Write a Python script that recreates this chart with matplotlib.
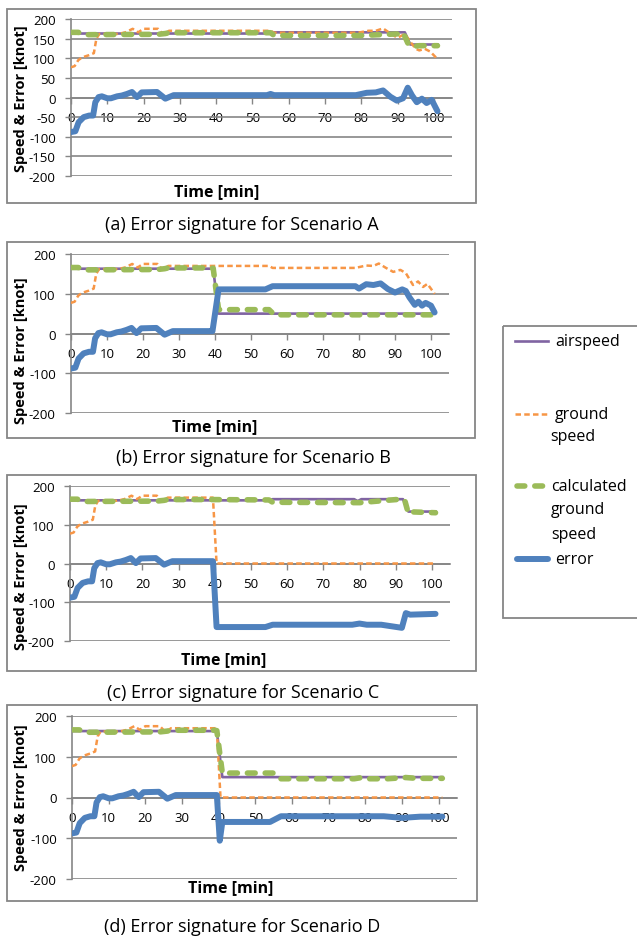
import matplotlib
matplotlib.use('Agg')  # no display in the sandbox

import matplotlib.pyplot as plt
from matplotlib.patches import Rectangle
from matplotlib.lines import Line2D

plt.rcParams['font.family'] = ['Open Sans', 'DejaVu Sans']
plt.rcParams['axes.unicode_minus'] = False

PURPLE = '#8064A2'
ORANGE = '#F79646'
GREEN = '#9BBB59'
BLUE = '#4F81BD'
GRID = '#868686'

# ---- values (time in min, speed / error in knot) ----
# first ~39 minutes are the same in every scenario
t_ground_start = [0, 1, 2, 3, 4, 5, 6.3, 7, 7.8, 13, 15, 17, 18.5, 20, 24, 25.5, 27, 39]
ground_start = [77, 80, 95, 102, 105, 108, 113, 150, 162, 162, 166, 175, 166, 175, 175, 160, 170, 170]

t_calc_start = [0, 2, 3.5, 24, 26, 27, 39]
calc_start = [166, 166, 160, 161, 163, 165, 165]

t_err_start = [0, 1.2, 2.1, 3.5, 5, 6.1, 6.7, 7.6, 8.5, 10, 11, 12.7, 14, 15.4, 16.8,
               18.2, 19.5, 23.7, 26, 28.3, 39]
err_start = [-88, -86, -63, -50, -46, -46, -12, 1, 3, -2, -2, 3, 5, 9, 14,
             1, 13, 14, -3, 6, 6]

# scenario A
t_air_a = [0, 55, 56, 92, 93.5, 101]
air_a = [163, 163, 166, 166, 135, 135]
t_ground_a = [55, 56, 79, 82, 84, 86, 88.7, 90, 92, 94, 95, 96, 97.5, 99, 101]
ground_a = [170, 165, 165, 170, 170, 176, 159, 152, 162, 136, 124, 120, 124, 117, 98]
t_calc_a = [55, 56, 80, 85, 90, 91.5, 93, 94, 96, 101]
calc_a = [165, 158, 158, 160, 162, 166, 135, 130, 132, 132]
t_err_a = [54, 55, 56, 78.5, 81.5, 84, 86, 88, 89.8, 91.5, 92.8, 94, 95.3, 96.7, 98, 99.4, 101]
err_a = [6, 9, 6, 6, 12, 13, 18, 2, -8, -2, 25, 5, -12, -3, -14, -6, -35]

# scenario B
t_air_b = [0, 39.5, 41, 101]
air_b = [163, 163, 50, 50]
t_ground_b = [55, 56, 79, 82, 84, 85.5, 87.5, 89.5, 91.5, 93, 95, 96.4, 97.8, 99, 101]
ground_b = [170, 165, 165, 171, 170, 176, 165, 155, 160, 152, 122, 131, 117, 125, 100]
t_calc_b = [39.5, 41, 55, 56.5, 101]
calc_b = [164, 60, 60, 47, 47]
t_err_b = [39.3, 41, 54, 56, 79, 80, 82, 84, 86, 88, 90, 92, 93, 94, 95.5, 96.5, 97.5, 98.5, 100, 101]
err_b = [6, 111, 111, 119, 119, 113, 124, 122, 126, 112, 103, 111, 107, 91, 72, 80, 70, 77, 70, 53]

# scenario C
t_air_c = [0, 55, 56, 78.5, 79.5, 80.5, 92, 93.5, 101]
air_c = [163, 163, 166, 166, 161, 166, 166, 134, 134]
t_ground_c = [39.5, 40.5, 101]
ground_c = [170, 0, 0]
t_calc_c = [55, 56, 80, 87.5, 91.5, 92.5, 93.5, 95, 101]
calc_c = [164, 158, 157, 163, 166, 163, 129, 133, 131]
t_err_c = [39.5, 40.5, 54, 56, 78, 80, 82, 86, 91.7, 92.8, 94, 101]
err_c = [6, -164, -164, -158, -158, -155, -158, -158, -166, -128, -132, -130]

# scenario D
t_air_d = [0, 39.5, 41, 101]
air_d = [163, 163, 50, 50]
t_ground_d = [39.5, 40.5, 101]
ground_d = [170, 0, 0]
t_calc_d = [39.5, 41, 55, 57, 77, 79, 81, 86, 91, 94, 101]
calc_d = [164, 60, 60, 46, 46, 49, 46, 46, 49, 47, 47]
t_err_d = [39.5, 40.3, 41, 54, 57, 85, 90, 95, 101]
err_d = [6, -106, -60, -60, -46, -46, -50, -47, -47]

x_ticks = [0, 10, 20, 30, 40, 50, 60, 70, 80, 90, 100]
y_ticks_a = [-200, -150, -100, -50, 0, 50, 100, 150, 200]
y_ticks_bcd = [-200, -100, 0, 100, 200]

captions = ['(a) Error signature for Scenario A', '(b) Error signature for Scenario B',
            '(c) Error signature for Scenario C', '(d) Error signature for Scenario D']

W, H = 637, 937
fig = plt.figure(figsize=(W / 100, H / 100), dpi=100)

# overlay in pixel coordinates for frames and free text
ov = fig.add_axes([0, 0, 1, 1])
ov.set_xlim(0, W)
ov.set_ylim(H, 0)
ov.axis('off')

AIR_STYLE = dict(color=PURPLE, lw=1.9)
GROUND_STYLE = dict(color=ORANGE, lw=1.8, ls=(0, (2.2, 1.3)))
CALC_STYLE = dict(color=GREEN, lw=4.0, ls=(0, (1.4, 1.8)), dash_capstyle='round')
ERR_STYLE = dict(color=BLUE, lw=4.3, solid_capstyle='round')


def draw_panel(px, yticks, air, ground, calc, err):
    x0, x1, ytop, ybot = px
    ax = fig.add_axes([x0 / W, 1 - ybot / H, (x1 - x0) / W, (ybot - ytop) / H])
    ax.set_facecolor('none')
    ax.plot(air[0], air[1], zorder=3, **AIR_STYLE)
    ax.plot(ground[0], ground[1], zorder=4, **GROUND_STYLE)
    ax.plot(calc[0], calc[1], zorder=5, **CALC_STYLE)
    ax.plot(err[0], err[1], zorder=6, **ERR_STYLE)
    ax.set_xlim(0, 105)
    ax.set_ylim(-200, 200)
    ax.set_xticks(x_ticks)
    ax.set_yticks(yticks)
    for s in ['top', 'right']:
        ax.spines[s].set_visible(False)
    ax.spines['left'].set_color(GRID)
    ax.spines['bottom'].set_color(GRID)
    ax.spines['left'].set_linewidth(1.2)
    ax.spines['bottom'].set_linewidth(1.2)
    ax.spines['bottom'].set_position(('data', 0))
    ax.yaxis.grid(True, color=GRID, lw=1.2)
    ax.set_axisbelow(True)
    ax.tick_params(axis='y', length=4, width=1, color=GRID, pad=7, labelsize=9.5)
    ax.tick_params(axis='x', length=4, width=1, color=GRID, pad=6, labelsize=9.5)
    return ax


panels = [
    ((71, 452, 20, 177), y_ticks_a,
     (t_air_a, air_a),
     (t_ground_start + t_ground_a, ground_start + ground_a),
     (t_calc_start + t_calc_a, calc_start + calc_a),
     (t_err_start + t_err_a, err_start + err_a)),
    ((71, 449, 255, 414), y_ticks_bcd,
     (t_air_b, air_b),
     (t_ground_start + t_ground_b, ground_start + ground_b),
     (t_calc_start + t_calc_b, calc_start + calc_b),
     (t_err_start + t_err_b, err_start + err_b)),
    ((70, 450, 487, 642), y_ticks_bcd,
     (t_air_c, air_c),
     (t_ground_start + t_ground_c, ground_start + ground_c),
     (t_calc_start + t_calc_c, calc_start + calc_c),
     (t_err_start + t_err_c, err_start + err_c)),
    ((72, 457, 717, 880), y_ticks_bcd,
     (t_air_d, air_d),
     (t_ground_start + t_ground_d, ground_start + ground_d),
     (t_calc_start + t_calc_d, calc_start + calc_d),
     (t_err_start + t_err_d, err_start + err_d)),
]

boxes = [(7, 476, 10, 204), (7, 475, 243, 439), (7, 476, 476, 672), (7, 477, 706, 902)]
ylabel_pos = [(21, 99), (21, 351), (21, 577), (21, 798)]
xlabel_pos = [(217, 192), (215, 427), (224, 660), (231, 888)]
caption_pos = [(242, 225), (253, 458), (243, 693), (242, 927)]

for i, p in enumerate(panels):
    draw_panel(*p)
    bx0, bx1, by0, by1 = boxes[i]
    ov.add_patch(Rectangle((bx0, by0), bx1 - bx0, by1 - by0, fill=False,
                           edgecolor=GRID, lw=1.3))
    ov.text(*ylabel_pos[i], 'Speed & Error [knot]', rotation=90, ha='center',
            va='center', fontsize=10.5, fontweight='bold')
    ov.text(*xlabel_pos[i], 'Time [min]', ha='center', va='center',
            fontsize=11.5, fontweight='bold')
    ov.text(*caption_pos[i], captions[i], ha='center', va='center', fontsize=13)

# legend box drawn by hand (Excel wraps the labels)
ov.add_patch(Rectangle((503, 327), 140, 292, fill=False, edgecolor=GRID, lw=1.3))
ov.add_line(Line2D([515, 548], [342, 342], **AIR_STYLE))
ov.add_line(Line2D([515, 548], [415, 415], **GROUND_STYLE))
ov.add_line(Line2D([517, 549], [487, 487], **CALC_STYLE))
ov.add_line(Line2D([517, 548], [560, 560], **ERR_STYLE))
legend_lines = [('airspeed', 555, 342), ('ground', 555, 415), ('speed', 550, 437),
                ('calculated', 551, 487), ('ground', 551, 510), ('speed', 551, 535),
                ('error', 555, 560)]
for txt, lx, ly in legend_lines:
    ov.text(lx, ly, txt, ha='left', va='center', fontsize=11.5)

fig.savefig('out.png', dpi=100)
